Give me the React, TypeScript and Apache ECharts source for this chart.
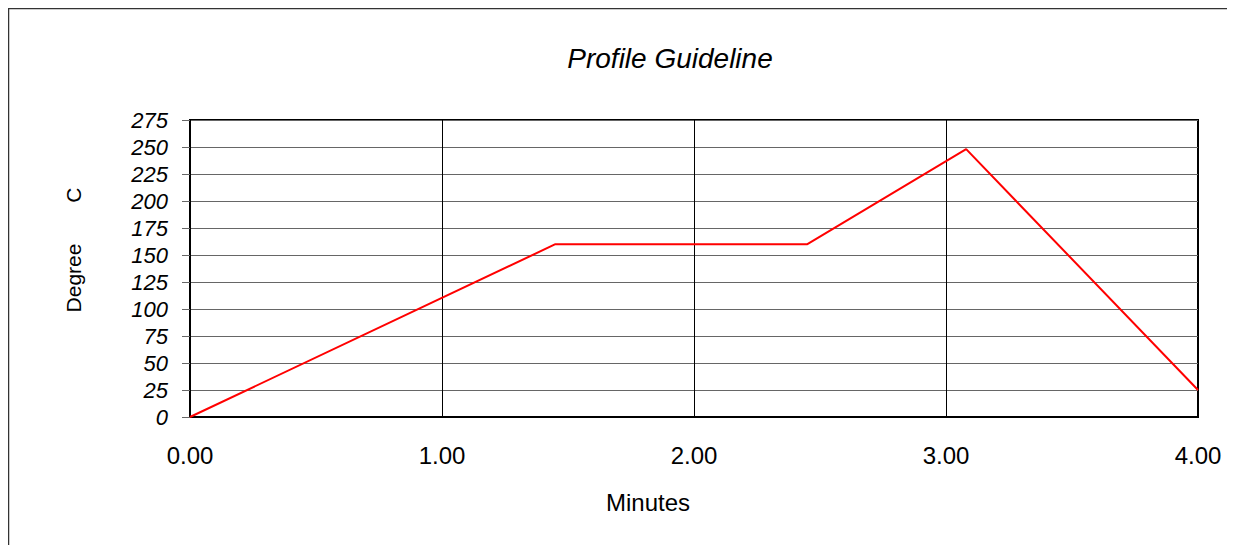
import React, { useEffect, useRef } from "react";
import * as echarts from "echarts";

const minutes = [0, 1.45, 2.45, 3.08, 4.0];
const degrees = [0, 160, 160, 248, 25];
const xTicks = [0, 1, 2, 3, 4];
const yTicks = [0, 25, 50, 75, 100, 125, 150, 175, 200, 225, 250, 275];

export default function App() {
  const ref = useRef<HTMLDivElement>(null);
  useEffect(() => {
    if (!ref.current) return;
    const chart = echarts.init(ref.current, undefined, { renderer: "svg" });
    const font = "'Liberation Sans', Arial, sans-serif";
    chart.setOption({
      animation: false,
      backgroundColor: "#fff",
      graphic: [
        {
          type: "rect",
          shape: { x: 0.5, y: 0.5, width: 1400, height: 600 },
          style: { fill: "none", stroke: "#333", lineWidth: 1.5 },
          silent: true,
        },
        {
          type: "text",
          x: 662,
          y: 50,
          style: {
            text: "Profile Guideline",
            fontFamily: font,
            fontSize: 28,
            fontStyle: "italic",
            fill: "#000",
            textAlign: "center",
            textVerticalAlign: "middle",
          },
        },
        {
          type: "text",
          x: 65,
          y: 242,
          rotation: Math.PI / 2,
          style: {
            text: "Degree       C",
            fontFamily: font,
            fontSize: 21,
            fill: "#000",
            textAlign: "center",
            textVerticalAlign: "middle",
          },
        },
        {
          type: "text",
          x: 640,
          y: 494,
          style: {
            text: "Minutes",
            fontFamily: font,
            fontSize: 24,
            fill: "#000",
            textAlign: "center",
            textVerticalAlign: "middle",
          },
        },
      ],
      grid: {
        left: 182,
        top: 112,
        width: 1008,
        height: 297,
        show: true,
        borderColor: "#000",
        borderWidth: 2,
        backgroundColor: "transparent",
      },
      xAxis: {
        type: "value",
        min: xTicks[0],
        max: xTicks[xTicks.length - 1],
        interval: 1,
        axisLine: { show: true, lineStyle: { color: "#000", width: 2 } },
        axisTick: { show: false },
        axisLabel: {
          fontFamily: font,
          fontSize: 24,
          color: "#000",
          margin: 26,
          formatter: (v: number) => v.toFixed(2),
        },
        splitLine: { show: true, lineStyle: { color: "#000", width: 1 } },
      },
      yAxis: {
        type: "value",
        min: yTicks[0],
        max: yTicks[yTicks.length - 1],
        interval: 25,
        axisLine: { show: true, lineStyle: { color: "#000", width: 2 } },
        axisTick: { show: true, length: 8, lineStyle: { color: "#666", width: 1 } },
        axisLabel: {
          fontFamily: font,
          fontSize: 22,
          fontStyle: "italic",
          color: "#000",
          margin: 22,
        },
        splitLine: { show: true, lineStyle: { color: "#666", width: 1 } },
      },
      series: [
        {
          type: "line",
          data: minutes.map((m, i) => [m, degrees[i]]),
          showSymbol: false,
          lineStyle: { color: "#ff0000", width: 2 },
          silent: true,
        },
      ],
    });
    return () => chart.dispose();
  }, []);
  return <div ref={ref} style={{ width: 1227, height: 537 }} />;
}
